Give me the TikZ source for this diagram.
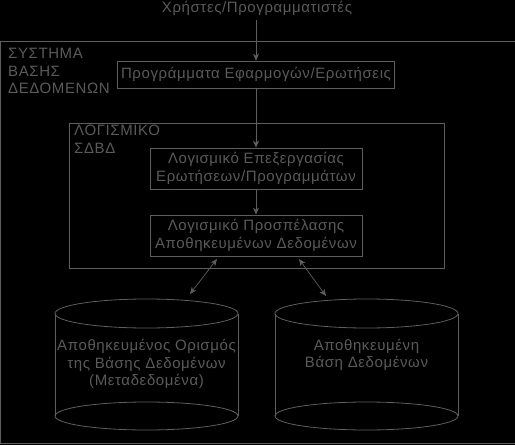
\documentclass[tikz,border=0pt]{standalone}
\usepackage{fontspec}
\setmainfont{Liberation Sans}[LetterSpace=4]
\usetikzlibrary{arrows.meta}
\definecolor{ln}{HTML}{5E5E5E}
\definecolor{tx}{HTML}{5A5A5A}
\begin{document}
\begin{tikzpicture}[x=1pt,y=-1pt,
  every node/.style={text=tx,font=\fontsize{15}{17.5}\selectfont},
  box/.style={draw=ln,line width=0.8pt,inner sep=0pt},
  lab/.style={align=left,anchor=north west,inner sep=0pt},
  arr/.style={draw=ln,line width=0.7pt,-{Stealth[length=7pt,width=6pt]}},
  darr/.style={draw=ln,line width=0.7pt,{Stealth[length=7pt,width=6pt]}-{Stealth[length=7pt,width=6pt]}}]
\fill[black] (0,0) rectangle (515,445);
\useasboundingbox (0,0) rectangle (515,445);
% outer frame
\node[box,minimum width=514pt,minimum height=402pt,anchor=north west] (sys) at (0.5,40.5) {};
\node[lab] (syslab) at (8,48) {ΣΥΣΤΗΜΑ\\ΒΑΣΗΣ\\ΔΕΔΟΜΕΝΩΝ};
\node (users) at (257,8) {Χρήστες/Προγραμματιστές};
\node[box,minimum width=277pt,minimum height=27pt] (app) at (256,74.5) {Προγράμματα Εφαρμογών/Ερωτήσεις};
% DBMS frame
\node[box,minimum width=375pt,minimum height=145pt,anchor=north west] (dbms) at (68.5,122.5) {};
\node[lab] (dbmslab) at (74,125) {ΛΟΓΙΣΜΙΚΟ\\ΣΔΒΔ};
\node[box,minimum width=212pt,minimum height=41pt,align=center] (qp) at (256,168.5) {Λογισμικό Επεξεργασίας\\Ερωτήσεων/Προγραμμάτων};
\node[box,minimum width=212pt,minimum height=41pt,align=center] (sd) at (256,235.5) {Λογισμικό Προσπέλασης\\Αποθηκευμένων Δεδομένων};
% cylinders
\foreach \cx/\nm in {146.5/c1,366.5/c2}{
  \draw[ln,line width=0.8pt] (\cx-91.5,313.5) -- (\cx-91.5,416) (\cx+91.5,313.5) -- (\cx+91.5,416);
  \draw[ln,line width=0.8pt] (\cx,313.5) ellipse [x radius=91.5, y radius=14.5];
  \draw[ln,line width=0.8pt] (\cx,416) ellipse [x radius=91.5, y radius=14];
}
\node[align=center] (meta) at (146.5,364) {Αποθηκευμένος Ορισμός\\της Βάσης Δεδομένων\\(Μεταδεδομένα)};
\node[align=center] (db) at (366.5,355) {Αποθηκευμένη\\Βάση Δεδομένων};
\coordinate (c1top) at (190,294);
\coordinate (c2top) at (326,296);
\coordinate (sdl) at (217,259);
\coordinate (sdr) at (299,259);
\coordinate (u1) at (256,20);
\draw[arr] (u1) -- (app.north);
\draw[arr] (app.south) -- (qp.north);
\draw[arr] (qp.south) -- (sd.north);
\draw[darr] (sdl) -- (c1top);
\draw[darr] (sdr) -- (c2top);
\end{tikzpicture}
\end{document}
